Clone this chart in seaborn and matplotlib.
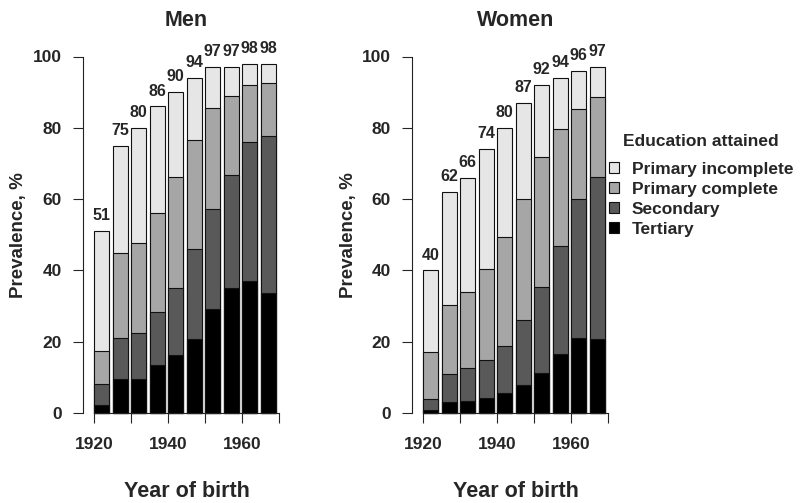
import matplotlib
matplotlib.use("Agg")
import matplotlib.pyplot as plt
from matplotlib.patches import Patch
import pandas as pd
import seaborn as sns

# birth cohorts (5-year groups, start year)
cohort_start = [1920, 1925, 1930, 1935, 1940, 1945, 1950, 1955, 1960, 1965]
levels = ["Primary incomplete", "Primary complete", "Secondary", "Tertiary"]
colors = ["#E6E6E6", "#A6A6A6", "#595959", "#000000"]

# cumulative prevalence (%), top of each stack segment
men_total = [51, 75, 80, 86, 90, 94, 97, 97, 98, 98]
men_primary = [17.5, 44.8, 47.8, 56.0, 66.3, 76.7, 85.5, 88.8, 91.9, 92.6]
men_secondary = [8.1, 21.0, 22.4, 28.4, 35.2, 46.1, 57.1, 66.8, 75.9, 77.6]
men_tertiary = [2.2, 9.5, 9.5, 13.5, 16.4, 20.7, 29.2, 35.2, 37.0, 33.6]

women_total = [40, 62, 66, 74, 80, 87, 92, 94, 96, 97]
women_primary = [17.2, 30.3, 33.9, 40.3, 49.3, 59.9, 71.7, 79.7, 85.4, 88.6]
women_secondary = [3.8, 10.9, 12.5, 14.8, 18.9, 26.0, 35.4, 46.8, 60.1, 66.3]
women_tertiary = [0.8, 3.0, 3.3, 4.3, 5.7, 7.9, 11.3, 16.6, 21.1, 20.7]

year_ticks = [1920, 1930, 1940, 1950, 1960, 1970]
year_labels = ["1920", "", "1940", "", "1960", ""]
prev_ticks = [0, 20, 40, 60, 80, 100]

sns.set_style("ticks")
plt.rcParams["font.family"] = ["Liberation Sans", "DejaVu Sans"]
plt.rcParams["font.weight"] = "bold"
plt.rcParams["axes.labelweight"] = "bold"
plt.rcParams["axes.titleweight"] = "bold"


def panel(ax, layers, totals, title):
    df = pd.DataFrame({"start": cohort_start})
    df["mid"] = df["start"] + 2.05
    for vals, col in zip(layers, colors):
        df["value"] = vals
        sns.barplot(data=df, x="mid", y="value", native_scale=True, width=0.82,
                    color=col, saturation=1, edgecolor="#111111", linewidth=0.8,
                    errorbar=None, ax=ax)
    for p in ax.patches:
        p.set_clip_on(False)
    for x, t in zip(df["mid"], totals):
        ax.annotate(f"{t}", (x, t), xytext=(0, 11), textcoords="offset points",
                    ha="center", va="center", fontsize=11.5, fontweight="bold",
                    annotation_clip=False)

    ax.set_xlim(1920, 1970)
    ax.set_ylim(0, 100)
    sns.despine(ax=ax)
    ax.spines["left"].set_position(("outward", 8))
    ax.spines["left"].set_bounds(0, 100)
    ax.spines["bottom"].set_bounds(1920, 1970)
    for s in ("left", "bottom"):
        ax.spines[s].set_linewidth(0.8)
        ax.spines[s].set_color("#222222")
    ax.set_xticks(year_ticks)
    ax.set_xticklabels(year_labels)
    ax.set_yticks(prev_ticks)
    ax.tick_params(axis="x", length=7.5, width=0.8, pad=10, labelsize=12.5)
    ax.tick_params(axis="y", length=7, width=0.8, pad=8, labelsize=12.5)
    ax.set_xlabel("Year of birth", fontsize=15.5, labelpad=21)
    ax.set_ylabel("Prevalence, %", fontsize=13.5, labelpad=4)
    ax.set_title(title, fontsize=15.5, pad=22)


fig = plt.figure(figsize=(8, 5.03), dpi=100)
ax_men = fig.add_axes([94 / 800, 90 / 503, 185 / 800, 356.5 / 503])
ax_women = fig.add_axes([423 / 800, 90 / 503, 185 / 800, 356.5 / 503])

panel(ax_men, [men_total, men_primary, men_secondary, men_tertiary], men_total, "Men")
panel(ax_women, [women_total, women_primary, women_secondary, women_tertiary],
      women_total, "Women")

fig.text(701 / 800, 1 - 141 / 503, "Education attained", ha="center", va="center",
         fontsize=12.5, fontweight="bold")
handles = [Patch(facecolor=c, edgecolor="#111111", linewidth=0.8) for c in colors]
fig.legend(handles, levels, loc="upper left",
           bbox_to_anchor=(609 / 800, 1 - 162 / 503), frameon=False,
           fontsize=12.5, handlelength=0.6, handleheight=0.6, handletextpad=0.7,
           labelspacing=0.28, borderpad=0, borderaxespad=0)

fig.savefig("out.png", dpi=100)
